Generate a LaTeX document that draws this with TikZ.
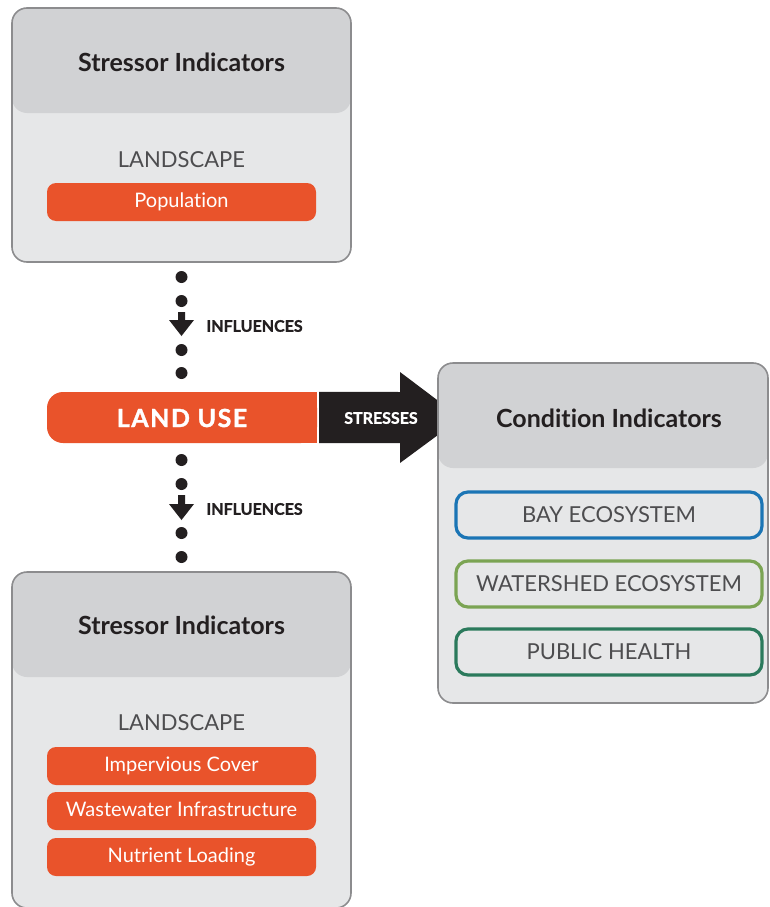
\documentclass[tikz,border=0pt]{standalone}
\usepackage{fontspec}
\setmainfont[Ligatures={NoCommon}]{Lato}
\newfontfamily\heavyfont[Ligatures={NoCommon},BoldFeatures={FakeBold=1.2}]{Lato}
\definecolor{headgray}{HTML}{D1D2D4}
\definecolor{bodygray}{HTML}{E6E7E8}
\definecolor{bordergray}{HTML}{8C8C8E}
\definecolor{orng}{HTML}{E9532B}
\definecolor{darktext}{HTML}{231F20}
\definecolor{midtext}{HTML}{4D4D4F}
\definecolor{bayblue}{HTML}{1B75B5}
\definecolor{wsgreen}{HTML}{7BA453}
\definecolor{phgreen}{HTML}{2B7A5C}
\newcommand{\fs}[1]{\fontsize{#1}{#1}\selectfont}
\tikzset{
  panel/.style={draw=bordergray, line width=1.6pt, fill=bodygray, rounded corners=15pt, inner sep=0pt,
    path picture={\fill[headgray] (path picture bounding box.north west) rectangle ([yshift=-105pt]path picture bounding box.north east);}},
  paneltitle/.style={font=\fs{25}\bfseries, text=darktext},
  landscape/.style={font=\fs{22}, text=midtext},
  pill/.style={fill=orng, rounded corners=9pt, minimum width=269pt, minimum height=38pt, inner sep=0pt, text=white, font=\fs{20}, text height=14.5pt, text depth=4pt},
  condbox/.style={draw=#1, line width=3.2pt, fill=bodygray, rounded corners=12pt, minimum width=306pt, minimum height=46pt, inner sep=0pt, text=midtext, font=\fs{22}},
  infl/.style={font=\heavyfont\fs{16}\bfseries, text=darktext, anchor=west},
  dot/.style={fill=darktext},
}
\begin{document}
\begin{tikzpicture}[x=1pt,y=-1pt]
\path[use as bounding box] (0,0) rectangle (769,907);
\clip (0,0) rectangle (769,907);
% top panel
\node[panel, minimum width=339pt, minimum height=254pt] (top) at (181.5,135) {};
\node[paneltitle] (toptitle) at (181.5,62) {Stressor Indicators};
\node[landscape] (ls1) at (181.5,160) {LANDSCAPE};
\node[pill] (pop) at (181.5,202) {Population};
% land use
\node[fill=orng, rounded corners=16pt, minimum width=270pt, minimum height=51pt, inner sep=0pt] (lu) at (182,417.5) {};
\fill[orng] ([xshift=-20pt]lu.north east) rectangle (lu.south east);
\node[text=white, font=\heavyfont\fs{25}\bfseries] (lutext) at (182,418) {L\kern1.5ptA\kern1.5ptN\kern1.5ptD\kern1.5pt\ U\kern1.5ptS\kern1.5ptE};
% stresses arrow
\coordinate (s0) at ([xshift=2pt]lu.north east);
\fill[darktext] (s0) -- (400,392) -- (400,372) -- (461,418) -- (400,463) -- (400,443) -- ([xshift=2pt]lu.south east) -- cycle;
\node[text=white, font=\heavyfont\fs{16}\bfseries] (stress) at (381,418) {STRESSES};
% right panel
\node[panel, minimum width=330pt, minimum height=340pt] (right) at (603,533) {};
\node[paneltitle] (condtitle) at (609,418) {Condition Indicators};
\node[condbox=bayblue] (bay) at (609,515) {BAY ECOSYSTEM};
\node[condbox=wsgreen] (ws) at (609,584) {WATERSHED ECOSYSTEM};
\node[condbox=phgreen] (ph) at (609,652) {PUBLIC HEALTH};
% bottom panel
\node[panel, minimum width=339pt, minimum height=336pt] (bot) at (181.5,740) {};
\node[paneltitle] (bottitle) at (181.5,625) {Stressor Indicators};
\node[landscape] (ls2) at (181.5,723) {LANDSCAPE};
\node[pill] (imp) at (181.5,766) {Impervious Cover};
\node[pill] (ww) at (181.5,811) {Wastewater Infrastructure};
\node[pill] (nl) at (181.5,857) {Nutrient Loading};
% upper influences
\foreach \yy in {277,301,350,373} \fill[dot] (181.5,\yy) circle (6);
\fill[darktext] (178,312) -- (185,312) -- (185,320) -- (194,320) -- (181.5,336) -- (169,320) -- (178,320) -- cycle;
\node[infl] (infl1) at (203,326) {INFLUENCES};
% lower influences
\foreach \yy in {460,484,533,557} \fill[dot] (181.5,\yy) circle (6);
\fill[darktext] (178,495) -- (185,495) -- (185,504) -- (194,504) -- (181.5,520) -- (169,504) -- (178,504) -- cycle;
\node[infl] (infl2) at (203,509) {INFLUENCES};
\end{tikzpicture}
\end{document}
